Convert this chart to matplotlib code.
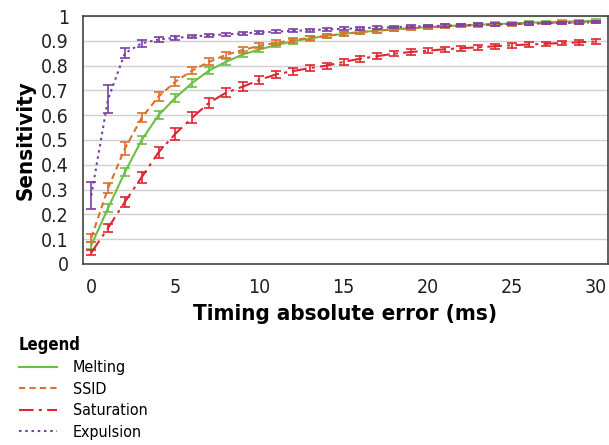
import matplotlib
matplotlib.use('Agg')
import matplotlib.pyplot as plt

x = list(range(31))

melting = [0.075, 0.225, 0.37, 0.50, 0.60, 0.67, 0.73, 0.78, 0.815, 0.845, 0.865,
           0.883, 0.898, 0.91, 0.92, 0.928, 0.935, 0.941, 0.946, 0.951, 0.955,
           0.959, 0.962, 0.965, 0.968, 0.97, 0.973, 0.975, 0.977, 0.979, 0.981]
melting_err = [0.015, 0.015, 0.015, 0.015, 0.015, 0.015, 0.015, 0.015, 0.013, 0.012, 0.012,
               0.01, 0.01, 0.01, 0.009, 0.009, 0.008, 0.008, 0.008, 0.007, 0.007,
               0.007, 0.007, 0.006, 0.006, 0.006, 0.006, 0.006, 0.005, 0.005, 0.005]

ssid = [0.105, 0.305, 0.465, 0.59, 0.675, 0.735, 0.78, 0.815, 0.843, 0.863, 0.88,
        0.892, 0.903, 0.912, 0.92, 0.928, 0.935, 0.941, 0.946, 0.95, 0.954,
        0.957, 0.96, 0.963, 0.965, 0.967, 0.969, 0.971, 0.973, 0.974, 0.975]
ssid_err = [0.015, 0.02, 0.025, 0.018, 0.018, 0.017, 0.015, 0.014, 0.012, 0.011, 0.01,
            0.01, 0.01, 0.009, 0.009, 0.008, 0.008, 0.008, 0.007, 0.007, 0.007,
            0.007, 0.006, 0.006, 0.006, 0.006, 0.006, 0.005, 0.005, 0.005, 0.005]

saturation = [0.045, 0.145, 0.25, 0.35, 0.45, 0.525, 0.59, 0.65, 0.69, 0.715, 0.742,
              0.765, 0.778, 0.79, 0.80, 0.815, 0.828, 0.838, 0.848, 0.855, 0.86,
              0.866, 0.87, 0.874, 0.878, 0.882, 0.885, 0.888, 0.891, 0.894, 0.897]
saturation_err = [0.01, 0.015, 0.02, 0.022, 0.022, 0.025, 0.022, 0.02, 0.018, 0.017, 0.016,
                  0.015, 0.014, 0.013, 0.012, 0.012, 0.012, 0.011, 0.011, 0.011, 0.01,
                  0.01, 0.01, 0.01, 0.01, 0.01, 0.009, 0.009, 0.009, 0.009, 0.009]

expulsion = [0.275, 0.665, 0.85, 0.89, 0.905, 0.912, 0.917, 0.922, 0.926, 0.93, 0.934,
             0.937, 0.94, 0.943, 0.946, 0.948, 0.951, 0.953, 0.955, 0.957, 0.959,
             0.961, 0.963, 0.965, 0.966, 0.968, 0.969, 0.971, 0.972, 0.973, 0.975]
expulsion_err = [0.055, 0.055, 0.02, 0.015, 0.01, 0.008, 0.007, 0.007, 0.006, 0.006, 0.006,
                 0.006, 0.006, 0.006, 0.006, 0.006, 0.006, 0.005, 0.005, 0.005, 0.005,
                 0.005, 0.005, 0.005, 0.005, 0.005, 0.005, 0.005, 0.005, 0.005, 0.005]

series = [
    ('Melting', melting, melting_err, '#6cbf43', '-'),
    ('SSID', ssid, ssid_err, '#de6f2e', (0, (3, 2))),
    ('Saturation', saturation, saturation_err, '#e02530', (0, (7, 2.5, 1.5, 2.5))),
    ('Expulsion', expulsion, expulsion_err, '#7a3fa5', (0, (1.2, 1.8))),
]

plt.rcParams['font.family'] = ['DejaVu Sans Condensed', 'Liberation Sans Narrow', 'DejaVu Sans']
plt.rcParams['font.stretch'] = 'condensed'

fig = plt.figure(figsize=(6.09, 4.45), dpi=100)
ax = fig.add_axes([0.136, 0.407, 0.862, 0.557])

handles = []
for name, vals, err, col, ls in series:
    l, = ax.plot(x, vals, color=col, linestyle=ls, lw=1.5, label=name)
    ax.errorbar(x, vals, yerr=err, fmt='none', ecolor=col, elinewidth=1.2,
                capsize=3.5, capthick=1.2)
    handles.append(l)

ax.set_xlim(-0.5, 30.7)
ax.set_ylim(0, 1)
ax.set_xticks(range(0, 31, 5))
ax.set_yticks([i / 10 for i in range(11)])
ax.set_yticklabels(['0'] + ['%.1f' % (i / 10) for i in range(1, 10)] + ['1'])
ax.yaxis.grid(True, color='#d0d0d0', lw=1)
ax.set_axisbelow(True)
ax.tick_params(length=0, labelsize=14, pad=10, colors='#222222')
for s in ax.spines.values():
    s.set_color('#444444')
    s.set_linewidth(1.2)

ax.set_xlabel('Timing absolute error (ms)', fontsize=16, fontweight='bold', labelpad=5)
ax.set_ylabel('Sensitivity', fontsize=16, fontweight='bold', labelpad=4)

leg = fig.legend(handles=handles, loc='upper left', bbox_to_anchor=(0.02, 0.26),
                 frameon=False, title='Legend', fontsize=11.5, handlelength=2.4,
                 labelspacing=0.41, borderaxespad=0, handletextpad=1.0)
leg.get_title().set_fontweight('bold')
leg.get_title().set_fontsize(12)
leg._legend_box.align = 'left'

fig.savefig('out.png', dpi=100)
